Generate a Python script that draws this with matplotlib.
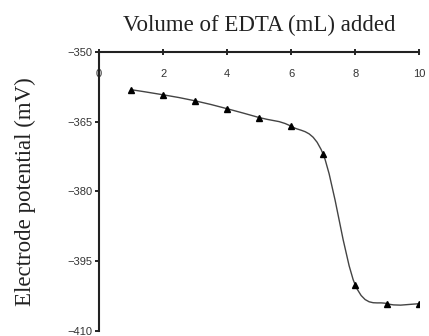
import matplotlib
matplotlib.use("Agg")
import matplotlib.pyplot as plt
from matplotlib.path import Path
from matplotlib.patches import PathPatch

volume_ml = [1, 2, 3, 4, 5, 6, 7, 8, 9, 10]
potential_mv = [-358.1, -359.2, -360.5, -362.2, -364.1, -366.0, -372.0, -400.1, -404.2, -404.2]
x_ticks = [0, 2, 4, 6, 8, 10]
y_ticks = [-350, -365, -380, -395, -410]

fig = plt.figure(figsize=(4.29, 3.36), dpi=100)
ax = fig.add_axes([0.231, 0.016, 0.746, 0.829])

# smooth (Excel-like) curve through the data points using cubic Bezier segments
pts = list(zip(volume_ml, potential_mv))
verts = [pts[0]]
codes = [Path.MOVETO]
t = 1.0 / 6.0
n = len(pts)
for i in range(n - 1):
    p0 = pts[i - 1] if i > 0 else pts[i]
    p1 = pts[i]
    p2 = pts[i + 1]
    p3 = pts[i + 2] if i + 2 < n else pts[i + 1]
    c1 = (p1[0] + (p2[0] - p0[0]) * t, p1[1] + (p2[1] - p0[1]) * t)
    c2 = (p2[0] - (p3[0] - p1[0]) * t, p2[1] - (p3[1] - p1[1]) * t)
    verts += [c1, c2, p2]
    codes += [Path.CURVE4] * 3
ax.add_patch(PathPatch(Path(verts, codes), fill=False, edgecolor="#444444", lw=1.0))
ax.plot(volume_ml, potential_mv, linestyle="none", marker="^", markersize=4,
        color="black")

ax.set_xlim(0, 10)
ax.set_ylim(-410, -350)
ax.set_xticks(x_ticks)
ax.set_yticks(y_ticks)

for s in ["right", "bottom"]:
    ax.spines[s].set_visible(False)
for s in ["left", "top"]:
    ax.spines[s].set_linewidth(1.5)
    ax.spines[s].set_color("#222222")

ax.xaxis.set_ticks_position("top")
ax.tick_params(axis="x", direction="inout", length=5, width=1.2, pad=-22,
               labelsize=8, labelcolor="#333333")
ax.tick_params(axis="y", direction="out", length=3, width=1.2, pad=2,
               labelsize=8, labelcolor="#333333")
for lab in ax.get_xticklabels() + ax.get_yticklabels():
    lab.set_family("Liberation Sans")

ax.xaxis.set_label_position("top")
ax.set_xlabel("Volume of EDTA (mL) added", family="Liberation Serif",
              fontsize=16.5, labelpad=13, color="#222222")
ax.set_ylabel("Electrode potential (mV)", family="Liberation Serif",
              fontsize=16.5, labelpad=22, color="#222222")

fig.savefig("out.png", dpi=100)
